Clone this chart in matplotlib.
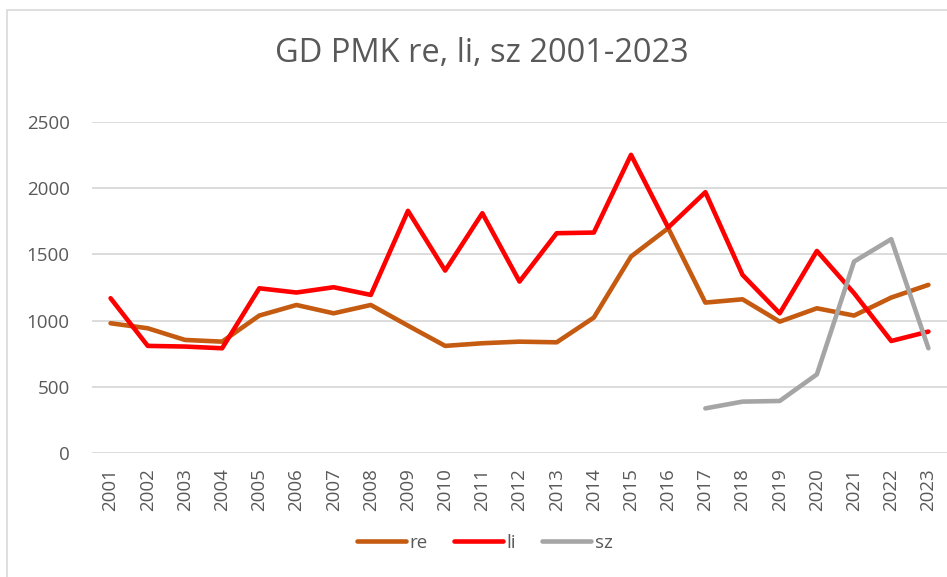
import matplotlib.pyplot as plt
from matplotlib.patches import Rectangle

# GD PMK re, li, sz 2001-2023

years = [str(y) for y in range(2001, 2024)]
re_vals = [980, 942, 854, 841, 1038, 1118, 1055, 1118, 962, 809, 829, 841,
           836, 1023, 1484, 1698, 1136, 1161, 992, 1093, 1038, 1174, 1270]
li_vals = [1169, 809, 804, 791, 1244, 1212, 1252, 1194, 1829, 1378, 1811, 1295,
           1660, 1665, 2252, 1703, 1970, 1345, 1055, 1526, 1207, 846, 917]
sz_years = years[16:]
sz_vals = [337, 388, 393, 594, 1446, 1615, 791]

plt.rcParams['font.family'] = ['Open Sans', 'DejaVu Sans']
txt = '#595959'

fig = plt.figure(figsize=(9.47, 5.77), dpi=100)
ax = fig.add_axes([92 / 947, 1 - 453 / 577, 855 / 947, 331 / 577])

x = list(range(len(years)))
ax.plot(x, re_vals, color='#C55A11', lw=3.3, solid_capstyle='round', solid_joinstyle='round', label='re')
ax.plot(x, li_vals, color='#FF0000', lw=3.3, solid_capstyle='round', solid_joinstyle='round', label='li')
ax.plot(x[16:], sz_vals, color='#A5A5A5', lw=3.3, solid_capstyle='round', solid_joinstyle='round', label='sz')

ax.set_xlim(-0.5, len(years) - 0.5)
ax.set_ylim(0, 2500)
ax.set_yticks(range(0, 2501, 500))
ax.set_xticks(x)
ax.set_xticklabels(years, rotation=90)
ax.tick_params(axis='both', length=0, colors=txt, labelsize=13.5)
ax.tick_params(axis='y', pad=16)
ax.tick_params(axis='x', pad=11)
ax.grid(axis='y', color='#D9D9D9', lw=1.3)
ax.set_axisbelow(True)
for s in ax.spines.values():
    s.set_visible(False)

fig.text(0.5 * (275 + 688) / 947, 1 - 53 / 577, 'GD PMK re, li, sz 2001-2023',
         ha='center', va='center', color=txt, fontsize=23.5)

leg = fig.legend(loc='center', bbox_to_anchor=(485 / 947, 1 - 543 / 577), ncol=3,
                 frameon=False, fontsize=13.5, handlelength=2.6, handletextpad=0.2,
                 columnspacing=1.4)
for t in leg.get_texts():
    t.set_color(txt)

fig.patches.append(Rectangle((7 / 947, -0.05), 1.0, 1.05 - 10 / 577, transform=fig.transFigure,
                             fill=False, edgecolor='#D9D9D9', lw=1.2))

fig.savefig('out.png', dpi=100)
